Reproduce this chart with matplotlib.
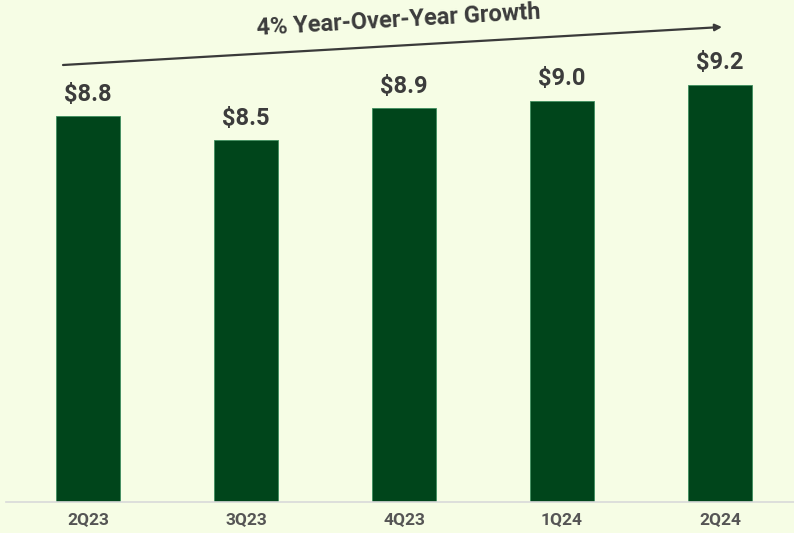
import numpy as np
import matplotlib.pyplot as plt

quarters = ['2Q23', '3Q23', '4Q23', '1Q24', '2Q24']
values = [8.8, 8.5, 8.9, 9.0, 9.2]
growth_label = '4% Year-Over-Year Growth'

bg = '#F6FDE5'
bar_color = '#00451B'
text_color = '#3C3C3C'

W, H = 794, 533
fig = plt.figure(figsize=(W / 100, H / 100), dpi=100, facecolor=bg)
ax = fig.add_axes([6 / W, (H - 502) / H, 788 / W, 502 / H])
ax.set_facecolor(bg)

x = np.arange(len(quarters))
ax.bar(x, values, width=0.405, color=bar_color, edgecolor='#3F8F5F', linewidth=0.6, zorder=2)

for xi, v in zip(x, values):
    ax.text(xi, v + 0.13, '${:.1f}'.format(v), ha='center', va='bottom',
            fontsize=17, fontweight='bold', color=text_color, family='Roboto')

# value axis does not start at zero
ymin = 3.95
ax.set_xlim(-82 / 158, 4 + 74 / 158)
ax.set_ylim(ymin, ymin + 502 / 79.5)
ax.set_xticks(x)
ax.set_xticklabels(quarters, fontsize=12.5, fontweight='bold', color='#555555', family='Roboto')
ax.tick_params(axis='x', length=0, pad=7)
ax.set_yticks([])
for side in ['top', 'right', 'left']:
    ax.spines[side].set_visible(False)
ax.spines['bottom'].set_color('#D9D9D9')
ax.spines['bottom'].set_linewidth(1.2)

# growth arrow and label across the top
ax.annotate('', xy=(722 / W, 1 - 27 / H), xytext=(63 / W, 1 - 65 / H),
            xycoords='figure fraction', textcoords='figure fraction',
            arrowprops=dict(arrowstyle='-|>', color='#3A3A3A', lw=1.6,
                            mutation_scale=10, shrinkA=0, shrinkB=0))
fig.text(399 / W, 1 - 20 / H, growth_label, ha='center', va='center', rotation=3.3,
         fontsize=17, fontweight='bold', color=text_color, family='Roboto')

fig.savefig('out.png', dpi=100, facecolor=bg)
